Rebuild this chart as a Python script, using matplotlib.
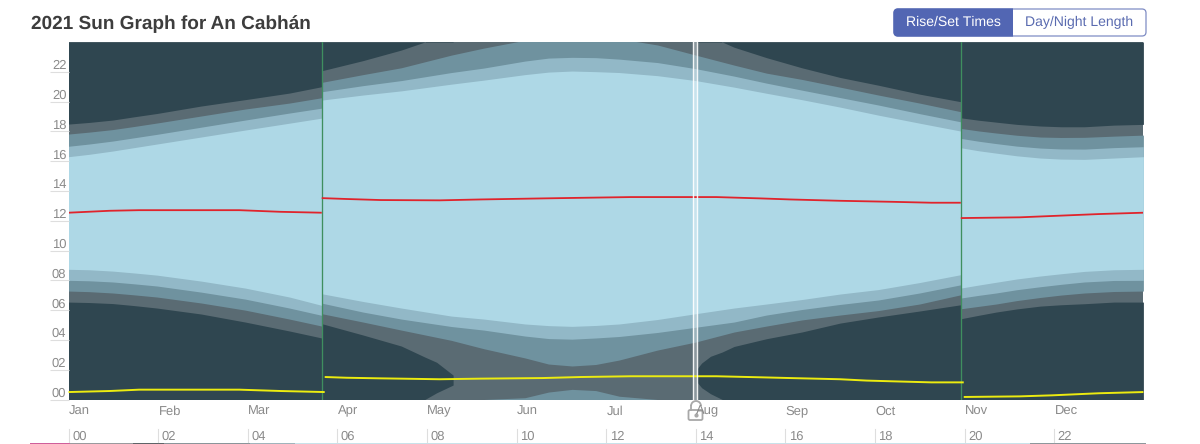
import numpy as np
import matplotlib
matplotlib.use('Agg')
import matplotlib.pyplot as plt
from matplotlib.patches import FancyBboxPatch, Rectangle, Arc

plt.rcParams['font.family'] = ['Liberation Sans', 'DejaVu Sans']
plt.rcParams['text.hinting'] = 'no_hinting'
plt.rcParams['text.hinting_factor'] = 1

months = ['Jan', 'Feb', 'Mar', 'Apr', 'May', 'Jun', 'Jul', 'Aug', 'Sep', 'Oct', 'Nov', 'Dec']
hour_ticks = ['00', '02', '04', '06', '08', '10', '12', '14', '16', '18', '20', '22']
clock_change_days = [86, 303]

# winter time, January to the end of March
days_a = [0, 7, 15, 22, 30, 45, 60, 75, 86]
sunrise_a = [8.74, 8.71, 8.62, 8.50, 8.35, 7.95, 7.48, 6.88, 6.32]
civil_dawn_a = [8.00, 7.97, 7.89, 7.77, 7.62, 7.21, 6.74, 6.14, 5.65]
naut_dawn_a = [7.28, 7.24, 7.15, 7.03, 6.88, 6.48, 6.00, 5.40, 4.93]
astro_dawn_a = [6.54, 6.51, 6.44, 6.31, 6.14, 5.74, 5.20, 4.60, 4.13]
sunset_a = [16.30, 16.46, 16.68, 16.90, 17.15, 17.62, 18.09, 18.55, 18.89]
civil_dusk_a = [17.00, 17.15, 17.35, 17.56, 17.80, 18.28, 18.76, 19.23, 19.56]
naut_dusk_a = [17.82, 17.95, 18.12, 18.32, 18.56, 19.03, 19.50, 19.90, 20.26]
astro_dusk_a = [18.49, 18.60, 18.76, 18.97, 19.20, 19.70, 20.13, 20.57, 21.00]

# summer time
days_b = [86, 100, 113, 130, 141, 155, 163, 171, 179, 187, 200, 213, 226, 237, 249, 262, 275, 289, 303]
sunrise_b = [7.10, 6.58, 6.14, 5.60, 5.40, 5.07, 4.96, 4.91, 4.97, 5.07, 5.37, 5.76, 6.14, 6.41, 6.71, 7.08, 7.38, 7.85, 8.38]
civil_dawn_b = [6.47, 5.87, 5.40, 4.90, 4.66, 4.26, 4.09, 4.05, 4.13, 4.23, 4.50, 4.85, 5.20, 5.67, 6.04, 6.38, 6.68, 7.15, 7.70]
naut_dawn_b = [5.76, 5.20, 4.66, 3.97, 3.41, 2.79, 2.38, 2.25, 2.35, 2.65, 3.32, 3.86, 4.53, 4.93, 5.34, 5.67, 5.97, 6.41, 7.03]
sunset_b = [20.10, 20.44, 20.72, 21.17, 21.44, 21.81, 21.98, 22.05, 22.01, 21.95, 21.74, 21.41, 20.97, 20.56, 20.13, 19.63, 19.09, 18.55, 18.02]
civil_dusk_b = [20.66, 21.07, 21.41, 21.95, 22.25, 22.72, 22.92, 22.97, 22.95, 22.85, 22.62, 22.21, 21.71, 21.24, 20.77, 20.27, 19.77, 19.19, 18.64]
naut_dusk_b = [21.29, 21.81, 22.27, 23.12, 23.59, 24.12, 24.50, 24.68, 24.60, 24.22, 23.80, 23.12, 22.45, 21.91, 21.49, 20.97, 20.44, 19.90, 19.32]

# astronomical night stops in May and comes back in August
spring_days = [86, 100, 113, 121, 125, 130.6]
spring_dawn = [5.09, 4.33, 3.59, 2.85, 2.50, 1.64]
spring_dusk = [22.07, 22.75, 23.46, 24.00, 24.45, 24.97]
autumn_days = [213.4, 215, 218, 222, 226, 237, 249, 262, 275, 289, 303]
autumn_dawn = [2.05, 2.45, 2.90, 3.19, 3.56, 4.08, 4.53, 5.13, 5.54, 5.94, 6.36]
autumn_dusk = [25.17, 24.79, 24.39, 24.00, 23.65, 22.95, 22.27, 21.62, 21.10, 20.50, 19.99]

# winter time again, November and December
days_c = [303, 309, 315, 322, 330, 337, 345, 355, 365]
sunrise_c = [7.48, 7.68, 7.87, 8.09, 8.29, 8.44, 8.60, 8.71, 8.74]
civil_dawn_c = [6.81, 6.99, 7.15, 7.37, 7.57, 7.73, 7.89, 7.99, 8.00]
naut_dawn_c = [6.09, 6.25, 6.41, 6.64, 6.85, 7.01, 7.15, 7.25, 7.28]
astro_dawn_c = [5.42, 5.65, 5.87, 6.08, 6.27, 6.36, 6.43, 6.54, 6.54]
sunset_c = [16.90, 16.70, 16.54, 16.36, 16.21, 16.14, 16.12, 16.21, 16.30]
civil_dusk_c = [17.53, 17.34, 17.18, 17.01, 16.88, 16.82, 16.81, 16.91, 16.97]
naut_dusk_c = [18.20, 18.03, 17.89, 17.74, 17.62, 17.59, 17.60, 17.68, 17.75]
astro_dusk_c = [18.91, 18.75, 18.62, 18.47, 18.36, 18.31, 18.31, 18.42, 18.47]

# solar noon
noon_days_a = [0, 14, 24, 58, 72, 86]
noon_a = [12.54, 12.67, 12.71, 12.71, 12.60, 12.54]
noon_days_b = [86, 94.5, 106, 126, 140, 161, 174, 191, 220, 235, 245, 262, 280, 293, 303]
noon_b = [13.52, 13.46, 13.39, 13.37, 13.43, 13.50, 13.54, 13.59, 13.59, 13.50, 13.43, 13.34, 13.27, 13.21, 13.21]
noon_days_c = [303, 323, 334, 350, 365]
noon_c = [12.18, 12.23, 12.32, 12.45, 12.54]

# solar midnight
midnight_days_a = [0, 14, 24, 58, 72, 87]
midnight_a = [0.50, 0.57, 0.66, 0.66, 0.57, 0.50]
midnight_days_b = [87, 94.5, 106, 126, 140, 161, 174, 191, 220, 235, 245, 262, 271, 280, 293, 304]
midnight_b = [1.51, 1.46, 1.42, 1.36, 1.40, 1.44, 1.51, 1.56, 1.56, 1.49, 1.44, 1.36, 1.27, 1.22, 1.15, 1.15]
midnight_days_c = [304, 323, 334, 350, 365]
midnight_c = [0.17, 0.21, 0.28, 0.42, 0.50]

dark = '#2f4650'
astro_col = '#5a6b73'
naut_col = '#6f929f'
civil_col = '#92b8c7'
day_col = '#aed8e6'
label_col = '#8a8a8a'

fig = plt.figure(figsize=(12, 4.44), dpi=100)
ax = fig.add_axes([68.5 / 1200, 1 - 399.5 / 444, 1074.9 / 1200, 357.5 / 444])
ax.set_facecolor(astro_col)

# night, split by the clock changes
for d, rise, dusk in [(days_a, astro_dawn_a, astro_dusk_a), (days_c, astro_dawn_c, astro_dusk_c),
                      (spring_days, spring_dawn, spring_dusk), (autumn_days, autumn_dawn, autumn_dusk)]:
    dusk = np.array(dusk)
    ax.fill_between(d, dusk, 24, color=dark, lw=0)
    ax.fill_between(d, np.clip(dusk - 24, 0, None), rise, color=dark, lw=0)

# twilight bands and daylight on top of each other
ax.fill_between(days_a, naut_dawn_a, naut_dusk_a, color=naut_col, lw=0)
ax.fill_between(days_b, naut_dawn_b, naut_dusk_b, color=naut_col, lw=0)
ax.fill_between(days_c, naut_dawn_c, naut_dusk_c, color=naut_col, lw=0)
ax.fill_between(days_b, 0, np.clip(np.array(naut_dusk_b) - 24, 0, None), color=naut_col, lw=0)

ax.fill_between(days_a, civil_dawn_a, civil_dusk_a, color=civil_col, lw=0)
ax.fill_between(days_b, civil_dawn_b, civil_dusk_b, color=civil_col, lw=0)
ax.fill_between(days_c, civil_dawn_c, civil_dusk_c, color=civil_col, lw=0)

ax.fill_between(days_a, sunrise_a, sunset_a, color=day_col, lw=0)
ax.fill_between(days_b, sunrise_b, sunset_b, color=day_col, lw=0)
ax.fill_between(days_c, sunrise_c, sunset_c, color=day_col, lw=0)

for d in clock_change_days:
    ax.axvline(d, color='#3f8f5f', lw=0.95)

for d, v in [(noon_days_a, noon_a), (noon_days_b, noon_b), (noon_days_c, noon_c)]:
    ax.plot(d, v, color='#e0242c', lw=1.3, solid_capstyle='butt')
for d, v in [(midnight_days_a, midnight_a), (midnight_days_b, midnight_b), (midnight_days_c, midnight_c)]:
    ax.plot(d, v, color='#ecec10', lw=1.4, solid_capstyle='butt', clip_on=False)

# selected day marker
ax.axvspan(212.0, 213.3, color='white', alpha=0.3, lw=0)
ax.axvline(211.9, color='white', lw=1.0, alpha=0.9)
ax.axvline(213.4, color='white', lw=1.0, alpha=0.9)

ax.set_xlim(0, 365)
ax.set_ylim(0, 24)
for s in ax.spines.values():
    s.set_visible(False)

ax.set_yticks(np.arange(0, 24, 2))
ax.set_yticklabels(['%02d' % h for h in range(0, 24, 2)], va='bottom')
ax.tick_params(axis='y', length=14, width=0.8, color='#dedede', labelcolor=label_col, labelsize=9.4, pad=-12.5)
ax.set_xticks([])

# overlay in pixel units for the page furniture around the plot
page = fig.add_axes([0, 0, 1, 1])
page.set_xlim(0, 1200)
page.set_ylim(444, 0)
page.axis('off')
page.patch.set_alpha(0)

page.text(31, 29, '2021 Sun Graph for An Cabhán', fontsize=13.6, fontweight='bold', color='#3d3d3d', va='baseline')

for i, (m, h) in enumerate(zip(months, hour_ticks)):
    x = 68.5 + i * 89.6
    page.text(x + 0.5, 414.5, m, fontsize=9.4, color=label_col, va='baseline')
    page.plot([x, x], [429, 442], color='#dedede', lw=0.8)
    page.text(x + 3.5, 440, h, fontsize=9.4, color=label_col, va='baseline')

# next panel just showing at the bottom edge
strip_edges = [30, 70, 133, 164, 250, 295, 1030, 1146]
strip_colors = ['#cf5f9b', '#9a9a9e', '#5f6468', '#8a959a', '#a0b4bc', '#c8e2ea', '#8d979c']
for x0, x1, c in zip(strip_edges[:-1], strip_edges[1:], strip_colors):
    page.add_patch(Rectangle((x0, 442.8), x1 - x0, 1.2, fc=c, ec='none'))

# toggle buttons
page.add_patch(FancyBboxPatch((894, 9), 252, 27, boxstyle='round,pad=0,rounding_size=4',
                              fc='white', ec='#7f8cc4', lw=0.9))
left_btn = FancyBboxPatch((894, 9), 124, 27, boxstyle='round,pad=0,rounding_size=4',
                          fc='#5266b3', ec='#5266b3', lw=0.9)
page.add_patch(left_btn)
left_btn.set_clip_path(Rectangle((890, 5), 122.5, 35, transform=page.transData))
page.text(953, 22.5, 'Rise/Set Times', fontsize=10, color='white', ha='center', va='center')
page.text(1079, 22.5, 'Day/Night Length', fontsize=10, color='#5a6bb0', ha='center', va='center')

# padlock
page.add_patch(FancyBboxPatch((688.5, 410), 14, 10, boxstyle='round,pad=0,rounding_size=1.5',
                              fc='none', ec='#a8a8a8', lw=1.3))
page.add_patch(Arc((696, 406), 10, 10, theta1=180, theta2=360, ec='#a8a8a8', lw=1.3))
page.plot([691, 691], [406, 410], color='#a8a8a8', lw=1.3)
page.plot([695.5], [415], 'o', color='#a8a8a8', ms=2)

fig.savefig('out.png', dpi=100)
